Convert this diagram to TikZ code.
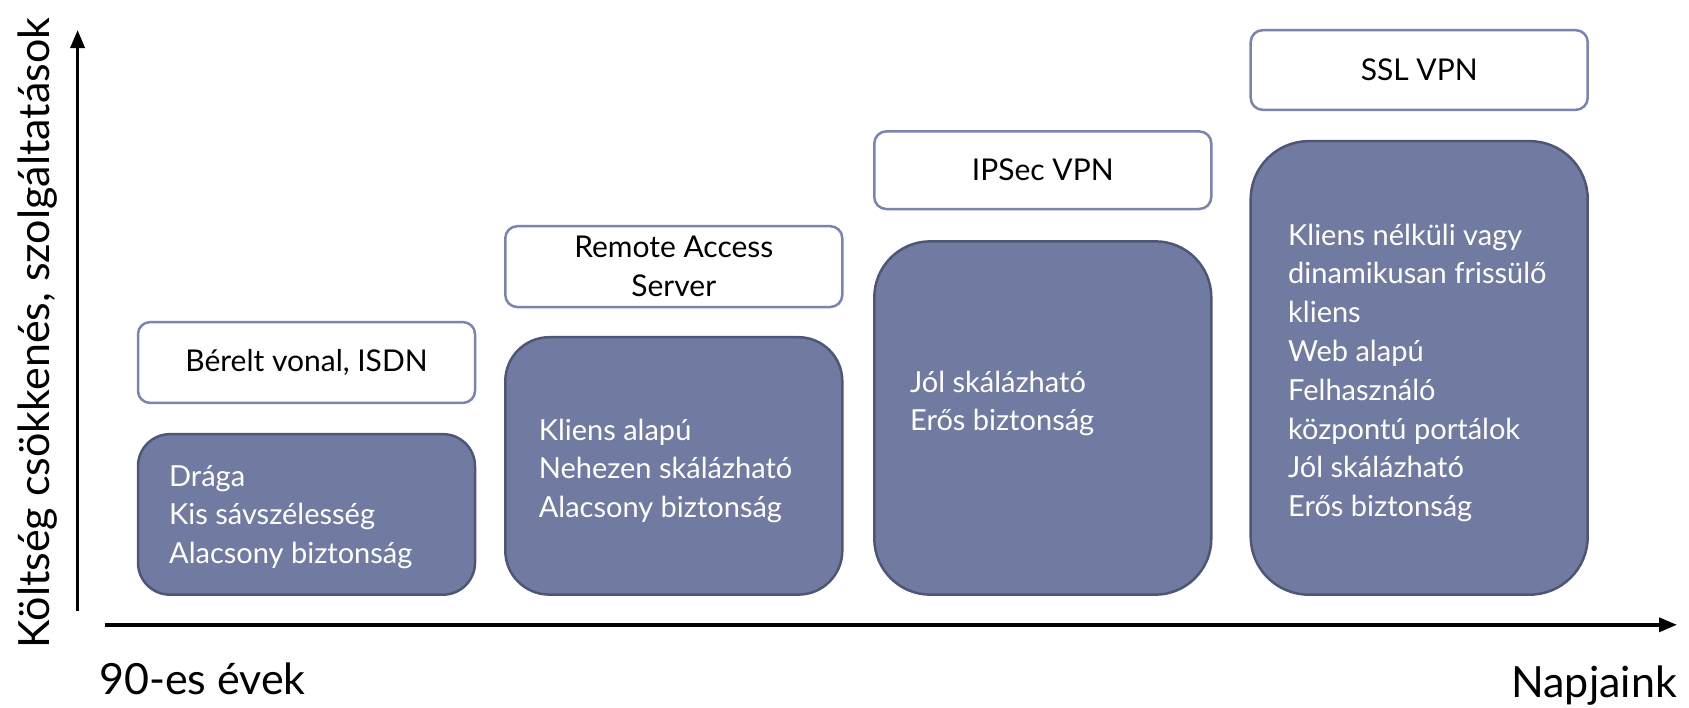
\documentclass[tikz,border=0pt]{standalone}
\usepackage{fontspec}
\setmainfont{Lato}
\usetikzlibrary{arrows.meta}
\definecolor{bodyfill}{HTML}{717BA1}
\definecolor{bodydraw}{HTML}{4E5677}
\definecolor{titledraw}{HTML}{7A84AE}
\begin{document}
\begin{tikzpicture}[x=1pt,y=-1pt,
  titlebox/.style={draw=titledraw, line width=2.5pt, fill=white, rounded corners=12pt,
    inner sep=0pt, align=center, minimum width=337pt, font=\fontsize{30}{38.8}\selectfont},
  bodybox/.style={draw=bodydraw, line width=2.5pt, fill=bodyfill, inner sep=0pt, minimum width=337pt},
  bodytext/.style={text=white, align=left, anchor=base west, inner sep=0pt,
    font=\fontsize{29}{38.8}\selectfont},
  axis/.style={line width=3.5pt, -{Triangle[length=18pt,width=14pt]}},
  biglabel/.style={inner sep=0pt, font=\fontsize{43}{45}\selectfont}]
\useasboundingbox (0,0) rectangle (1689,707);
% axes
\coordinate (yb) at (77.6,611);
\coordinate (yt) at (77.6,30);
\coordinate (xl) at (104.5,624.8);
\coordinate (xr) at (1677,624.8);
\draw[axis] (yb) -- (yt);
\draw[axis] (xl) -- (xr);
\node[biglabel, rotate=90] (ylab) at (37.7,333) {Költség csökkenés, szolgáltatások};
\node[biglabel, anchor=base west] (start) at (99,694) {90-es évek};
\node[biglabel, anchor=base east] (end) at (1677,697) {Napjaink};
% column 1
\node[titlebox, minimum height=80.8pt] (t1) at (306.5,362.5) {Bérelt vonal, ISDN};
\node[bodybox, minimum height=160.5pt, rounded corners=32pt] (b1) at (306.5,514.4) {};
\node[bodytext] (x1) at (169,563.6) {Drága\\Kis sávszélesség\\Alacsony biztonság};
% column 2
\node[titlebox, minimum height=80.8pt] (t2) at (673.8,266.6) {Remote Access\\Server};
\node[bodybox, minimum height=257.4pt, rounded corners=44pt] (b2) at (673.8,465.9) {};
\node[bodytext] (x2) at (538.6,517.6) {Kliens alapú\\Nehezen skálázható\\Alacsony biztonság};
% column 3
\node[titlebox, minimum height=77.6pt] (t3) at (1042.8,170.2) {IPSec VPN};
\node[bodybox, minimum height=353.3pt, rounded corners=56pt] (b3) at (1042.8,418) {};
\node[bodytext] (x3) at (910,430.8) {Jól skálázható\\Erős biztonság};
% column 4
\node[titlebox, minimum height=79.7pt] (t4) at (1419.2,70) {SSL VPN};
\node[bodybox, minimum height=453.5pt, rounded corners=58pt] (b4) at (1419.2,367.9) {};
\node[bodytext] (x4) at (1288,516.6) {Kliens nélküli vagy\\dinamikusan frissülő\\kliens\\Web alapú\\Felhasználó\\központú portálok\\Jól skálázható\\Erős biztonság};
\end{tikzpicture}
\end{document}
